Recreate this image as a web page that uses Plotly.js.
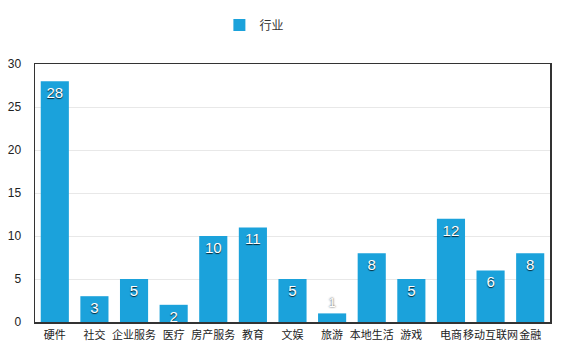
<!DOCTYPE html>
<html><head><meta charset="utf-8">
<script src="https://cdn.plot.ly/plotly-3.0.1.min.js"></script>
<style>body{margin:0;background:#fff}#c{width:570px;height:357px}</style>
</head><body><div id="c"></div>
<script>
const categories = ["硬件","社交","企业服务","医疗","房产服务","教育","文娱","旅游","本地生活","游戏","电商","移动互联网","金融"];
const values = [28,3,5,2,10,11,5,1,8,5,12,6,8];
const seriesName = "行业";
const yTicks = [0,5,10,15,20,25,30];
const cjk = "'Noto Sans CJK SC', 'Noto Sans', sans-serif";
const latin = "'Liberation Sans', Arial, sans-serif";

Plotly.newPlot('c', [{
  type: 'bar', x: categories, y: values, name: seriesName,
  marker: {color: '#1ba2db', line: {width: 0}},
  text: values.map(String),
  textposition: values.map(v => v < 2 ? 'outside' : 'inside'),
  insidetextanchor: 'end',
  constraintext: 'none', textangle: 0, cliponaxis: false,
  textfont: {color: '#ffffff', size: 15, family: latin, shadow: '0px 1px 1px rgba(0,0,0,0.8)'},
  outsidetextfont: {color: '#ffffff', size: 13, family: latin, shadow: '0px 0px 2px rgba(0,0,0,0.9)'},
  hoverinfo: 'none', showlegend: true
}], {
  width: 570, height: 357,
  margin: {l: 35, r: 20, t: 63, b: 35},
  paper_bgcolor: '#fff', plot_bgcolor: '#fff',
  font: {family: cjk, color: '#333', size: 12},
  bargap: 0.29,
  showlegend: true,
  legend: {orientation: 'h', x: 0.426, xanchor: 'center', y: 1.147, yanchor: 'middle', font: {size: 12, color: '#333', family: cjk}},
  xaxis: {showgrid: false, showline: true, linecolor: '#333', linewidth: 1.5, mirror: true, ticks: '', tickangle: 0, ticklabelstandoff: 2, tickfont: {size: 11, color: '#222', family: cjk}, fixedrange: true},
  yaxis: {range: [0, 30], tickvals: yTicks, showgrid: true, gridcolor: '#e8e8e8', showline: true, linecolor: '#333', linewidth: 1.5, mirror: true, zeroline: false, ticks: '', ticklabelstandoff: 10, tickfont: {size: 12, color: '#222', family: latin}, fixedrange: true}
}, {displayModeBar: false, staticPlot: true});
</script></body></html>
